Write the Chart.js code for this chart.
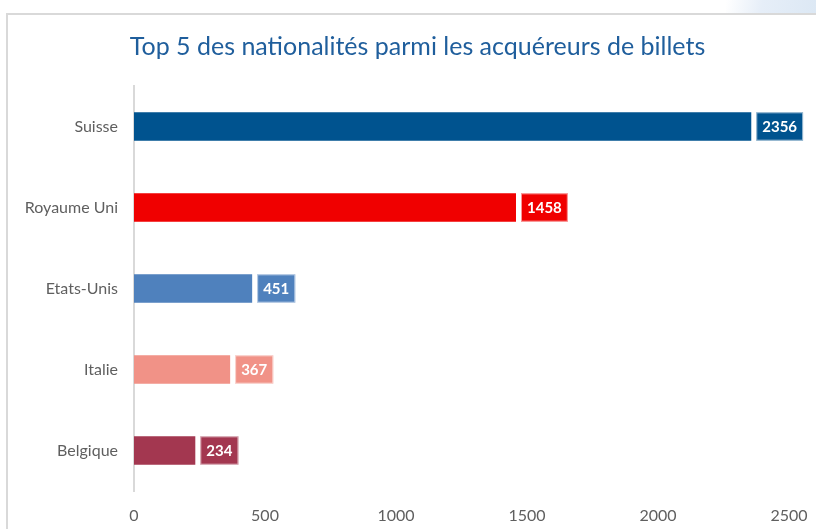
<!DOCTYPE html>
<html lang="fr">
<head>
  <meta charset="utf-8">
  <title>Top 5 des nationalités</title>
  <script src="https://cdn.jsdelivr.net/npm/chart.js"></script>
  <style>
    html, body {
      margin: 0;
      padding: 0;
      background: #fff;
      width: 816px;
      height: 529px;
      overflow: hidden;
    }
    .corner {
      position: absolute;
      right: 0;
      top: 0;
      width: 90px;
      height: 14px;
      background: linear-gradient(100deg, #ffffff 0%, #e6eef8 40%, #dce8f4 100%);
    }
    .frame {
      position: absolute;
      left: 6px;
      top: 13px;
      width: 810px;
      height: 516px;
      border-left: 2px solid #d9d9d9;
      border-top: 2px solid #d9d9d9;
      box-sizing: border-box;
    }
    #natChart {
      position: absolute;
      left: 6px;
      top: 13px;
    }
  </style>
</head>
<body>
<div class="corner"></div>
<div class="frame"></div>
<canvas id="natChart" width="810" height="516"></canvas>

<script>
  const pays = ['Suisse', 'Royaume Uni', 'Etats-Unis', 'Italie', 'Belgique'];
  const acheteurs = [2356, 1458, 451, 367, 234];
  const couleurs = ['#00538f', '#f00000', '#4f81bd', '#f19287', '#a33750'];
  const ticksX = [0, 500, 1000, 1500, 2000, 2500];

  // étiquettes de valeur dans une boîte de la couleur de la barre
  const boxLabels = {
    id: 'boxLabels',
    afterLayout(chart) {
      // recentre le titre comme dans l'original
      if (chart.titleBlock) {
        chart.titleBlock.left += 16;
        chart.titleBlock.right += 16;
      }
    },
    afterDatasetsDraw(chart) {
      const ctx = chart.ctx;
      const meta = chart.getDatasetMeta(0);
      ctx.save();
      ctx.font = 'bold 15px Lato';
      ctx.textBaseline = 'middle';
      ctx.textAlign = 'center';
      meta.data.forEach((bar, i) => {
        const txt = String(acheteurs[i]);
        const w = ctx.measureText(txt).width + 12;
        const h = bar.height;
        const x = bar.x + 5;
        const y = bar.y - h / 2;
        ctx.fillStyle = couleurs[i];
        ctx.fillRect(x, y, w, h);
        ctx.strokeStyle = 'rgba(255,255,255,0.6)';
        ctx.lineWidth = 1;
        ctx.strokeRect(x + 0.5, y + 0.5, w - 1, h - 1);
        ctx.fillStyle = '#ffffff';
        ctx.fillText(txt, x + w / 2, bar.y + 1);
      });
      ctx.restore();
    }
  };

  const ctx = document.getElementById('natChart').getContext('2d');
  const chart = new Chart(ctx, {
    type: 'bar',
    data: {
      labels: pays,
      datasets: [{
        data: acheteurs,
        backgroundColor: couleurs,
        borderWidth: 0,
        categoryPercentage: 1,
        barPercentage: 0.35
      }]
    },
    plugins: [boxLabels],
    options: {
      indexAxis: 'y',
      responsive: false,
      animation: false,
      layout: {
        padding: { left: 8, right: 27, top: 0, bottom: 0 }
      },
      plugins: {
        legend: { display: false },
        tooltip: { enabled: false },
        title: {
          display: true,
          text: 'Top 5 des nationalités parmi les acquéreurs de billets',
          color: '#1f5e9c',
          font: { family: 'Lato', size: 25, weight: 'normal' },
          padding: { top: 19, bottom: 24 }
        }
      },
      scales: {
        x: {
          min: 0,
          max: 2500,
          afterBuildTicks: (scale) => {
            scale.ticks = ticksX.map(v => ({ value: v }));
          },
          afterFit: (scale) => {
            scale.height = 38;
            scale.paddingLeft = 0;
            scale.paddingRight = 0;
          },
          grid: { display: false, drawTicks: false },
          border: { display: false },
          ticks: {
            color: '#5f5f5f',
            font: { family: 'Lato', size: 16 },
            padding: 15,
            maxRotation: 0,
            callback: (v) => String(v)
          }
        },
        y: {
          afterFit: (scale) => {
            scale.width = 120;
            scale.paddingTop = 0;
            scale.paddingBottom = 0;
          },
          grid: { display: false, drawTicks: false },
          border: { display: true, color: '#d9d9d9', width: 2 },
          ticks: {
            color: '#5f5f5f',
            font: { family: 'Lato', size: 16 },
            padding: 16
          }
        }
      }
    }
  });
</script>
</body>
</html>
